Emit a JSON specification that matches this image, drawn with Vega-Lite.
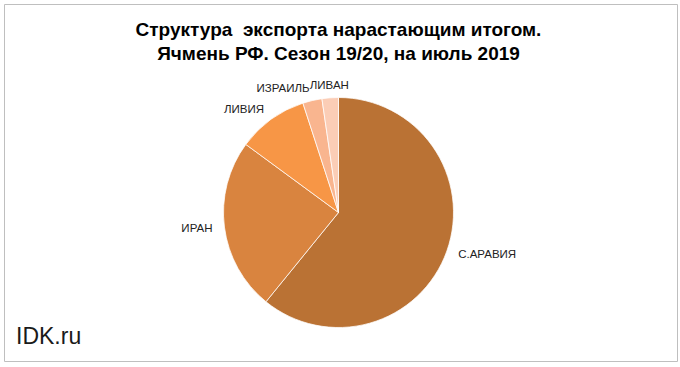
{
  "$schema": "https://vega.github.io/schema/vega-lite/v6.json",
  "padding": {"left": 3, "top": 3, "right": 4, "bottom": 7},
  "background": "white",
  "title": {
    "text": ["Структура\u00a0 экспорта нарастающим итогом.", "Ячмень РФ. Сезон 19/20, на июль 2019"],
    "font": "Liberation Sans",
    "fontSize": 19,
    "fontWeight": "bold",
    "color": "#000000",
    "lineHeight": 24,
    "anchor": "middle",
    "frame": "group",
    "baseline": "bottom",
    "offset": -79,
    "dx": -2
  },
  "config": {"view": {"stroke": "#bfbfbf", "strokeWidth": 1}},
  "vconcat": [
    {
      "width": 673,
      "height": 357,
      "view": {"stroke": "#bfbfbf", "strokeWidth": 1, "fill": "white"},
      "title": {
        "text": "IDK.ru",
        "orient": "bottom",
        "anchor": "start",
        "font": "Liberation Sans",
        "fontSize": 23,
        "fontWeight": "normal",
        "color": "#1a1a1a",
        "offset": -35,
        "dx": 12,
        "baseline": "top"
      },
      "data": {
        "values": [
          {"country": "С.АРАВИЯ", "share": 60.8},
          {"country": "ИРАН", "share": 24.2},
          {"country": "ЛИВИЯ", "share": 9.9},
          {"country": "ИЗРАИЛЬ", "share": 2.7},
          {"country": "ЛИВАН", "share": 2.3}
        ]
      },
      "transform": [
        {"joinaggregate": [{"op": "sum", "field": "share", "as": "total"}]}
      ],
      "encoding": {
        "theta": {"field": "share", "type": "quantitative", "stack": true},
        "order": {"field": "share", "sort": "descending"}
      },
      "layer": [
        {
          "mark": {"type": "arc", "outerRadius": 115, "xOffset": -2, "yOffset": 30, "stroke": "#ffffff", "strokeWidth": 0.75},
          "encoding": {
            "color": {
              "field": "country",
              "type": "nominal",
              "scale": {
                "domain": ["С.АРАВИЯ", "ИРАН", "ЛИВИЯ", "ИЗРАИЛЬ", "ЛИВАН"],
                "range": ["#ba7234", "#d9843f", "#f79646", "#f9b58f", "#fbcdb6"]
              },
              "legend": null
            }
          }
        },
        {
          "mark": {
            "type": "text",
            "radius": 127,
            "xOffset": -2,
            "yOffset": 30,
            "font": "Liberation Sans",
            "fontSize": 11.5,
            "color": "#222222",
            "baseline": "middle",
            "align": {"expr": "((datum.share_start + datum.share_end) / 2 / datum.total) < 0.02 || ((datum.share_start + datum.share_end) / 2 / datum.total) > 0.98 ? 'center' : (((datum.share_start + datum.share_end) / 2 / datum.total) < 0.5 ? 'left' : 'right')"}
          },
          "encoding": {
            "text": {"field": "country", "type": "nominal"}
          }
        }
      ]
    }
  ]
}
